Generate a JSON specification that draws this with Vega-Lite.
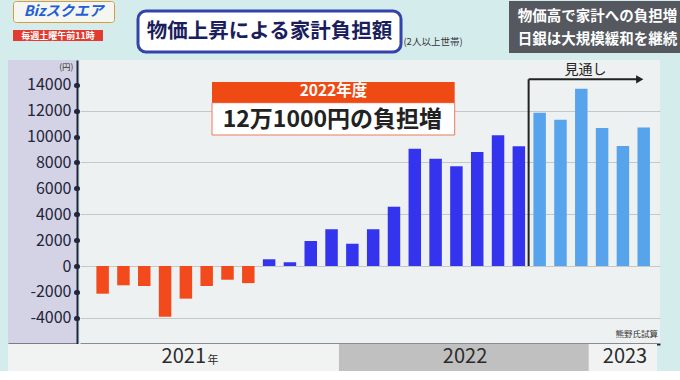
{
  "$schema": "https://vega.github.io/schema/vega-lite/v6.json",
  "background": "#d4ecec",
  "padding": {"left": 8, "top": 0, "right": 0, "bottom": 0},
  "config": {"view": {"stroke": null}, "font": "Noto Sans CJK JP", "concat": {"spacing": 0}},
  "spacing": 0,
  "vconcat": [
    {
      "spacing": 0,
      "hconcat": [
        {"width": 4, "height": 1, "view": {"fill": "transparent"}, "data": {"values": []}, "mark": "point"},
        {
          "spacing": 7,
          "vconcat": [
            {"width": 101, "height": 21, "view": {"fill": "#f6f6f0", "cornerRadius": 3, "stroke": "#d89a3a", "strokeWidth": 1},
             "data": {"values": [{}]}, "mark": {"type": "text", "fontSize": 14.5, "fontWeight": "bold", "fontStyle": "italic", "color": "#1f5fd6"},
             "encoding": {"text": {"value": "Bizスクエア"}}},
            {"width": 90, "height": 11, "view": {"fill": "#e23b31"},
             "data": {"values": [{}]}, "mark": {"type": "text", "fontSize": 9, "fontWeight": "bold", "color": "#ffffff"},
             "encoding": {"text": {"value": "毎週土曜午前11時"}}}
          ]
        },
        {"width": 21, "height": 1, "view": {"fill": "transparent"}, "data": {"values": []}, "mark": "point"},
        {
          "spacing": 0,
          "vconcat": [
            {"width": 1, "height": 8, "view": {"fill": "transparent"}, "data": {"values": []}, "mark": "point"},
            {"width": 263, "height": 41, "view": {"fill": "#ffffff", "stroke": "#3343aa", "strokeWidth": 3, "cornerRadius": 8},
             "data": {"values": [{}]}, "mark": {"type": "text", "fontSize": 20.5, "fontWeight": "bold", "color": "#1b1e5c"},
             "encoding": {"text": {"value": "物価上昇による家計負担額"}}}
          ]
        },
        {"width": 60, "height": 49, "view": {"fill": "transparent"},
         "data": {"values": [{}]}, "mark": {"type": "text", "fontSize": 9.5, "color": "#333333", "dy": 16},
         "encoding": {"text": {"value": "(2人以上世帯)"}}},
        {"width": 46, "height": 1, "view": {"fill": "transparent"}, "data": {"values": []}, "mark": "point"},
        {
          "spacing": 0,
          "vconcat": [
            {"width": 177, "height": 28, "view": {"fill": "#55595f"},
             "data": {"values": [{}]}, "mark": {"type": "text", "fontSize": 14.5, "fontWeight": "bold", "color": "#ffffff", "dy": 2},
             "encoding": {"text": {"value": "物価高で家計への負担増"}}},
            {"width": 177, "height": 24, "view": {"fill": "#55595f"},
             "data": {"values": [{}]}, "mark": {"type": "text", "fontSize": 14.5, "fontWeight": "bold", "color": "#ffffff", "dy": -1},
             "encoding": {"text": {"value": "日銀は大規模緩和を継続"}}},
            {"width": 1, "height": 7, "view": {"fill": "transparent"}, "data": {"values": []}, "mark": "point"}
          ]
        }
      ]
    },
    {
      "spacing": 0,
      "hconcat": [
        {
          "width": 69, "height": 284,
          "view": {"fill": "#d3d3e5"},
          "data": {"values": [{"v": 0}]},
          "mark": {"type": "point", "opacity": 0},
          "encoding": {
            "y": {"field": "v", "type": "quantitative",
                  "scale": {"domain": [-6025, 15914], "nice": false, "zero": false},
                  "axis": {"orient": "left", "offset": -69, "values": [-4000, -2000, 0, 2000, 4000, 6000, 8000, 10000, 12000, 14000],
                           "labelExpr": "'' + datum.value", "labelFontSize": 16, "labelColor": "#24243a", "labelPadding": 5,
                           "tickSize": 1, "tickWidth": 5, "tickCap": "round", "tickColor": "#24243a",
                           "domainColor": "#24243a", "domainWidth": 2, "grid": false,
                           "title": "(円)", "titleAngle": 0, "titleFontSize": 8.5, "titleFontWeight": "normal", "titleAlign": "right",
                           "titleBaseline": "middle", "titleX": -4, "titleY": 6, "titleColor": "#333333"}},
            "x": {"field": "v", "type": "quantitative",
                  "axis": {"domain": true, "domainColor": "#24243a", "domainWidth": 2, "labels": false, "ticks": false, "title": null, "grid": false}}
          }
        },
        {
          "width": 580, "height": 284,
          "view": {"fill": "#eef1f1"},
          "resolve": {"scale": {"x": "independent"}, "axis": {"x": "independent"}},
          "layer": [
            {
              "data": {"values": [
                {"month": "2021-01", "value": -2140, "status": "実績"},
                {"month": "2021-02", "value": -1490, "status": "実績"},
                {"month": "2021-03", "value": -1540, "status": "実績"},
                {"month": "2021-04", "value": -3920, "status": "実績"},
                {"month": "2021-05", "value": -2520, "status": "実績"},
                {"month": "2021-06", "value": -1540, "status": "実績"},
                {"month": "2021-07", "value": -1060, "status": "実績"},
                {"month": "2021-08", "value": -1320, "status": "実績"},
                {"month": "2021-09", "value": 520, "status": "実績"},
                {"month": "2021-10", "value": 290, "status": "実績"},
                {"month": "2021-11", "value": 1930, "status": "実績"},
                {"month": "2021-12", "value": 2840, "status": "実績"},
                {"month": "2022-01", "value": 1720, "status": "実績"},
                {"month": "2022-02", "value": 2840, "status": "実績"},
                {"month": "2022-03", "value": 4580, "status": "実績"},
                {"month": "2022-04", "value": 9060, "status": "実績"},
                {"month": "2022-05", "value": 8290, "status": "実績"},
                {"month": "2022-06", "value": 7700, "status": "実績"},
                {"month": "2022-07", "value": 8810, "status": "実績"},
                {"month": "2022-08", "value": 10100, "status": "実績"},
                {"month": "2022-09", "value": 9250, "status": "実績"},
                {"month": "2022-10", "value": 11840, "status": "見通し"},
                {"month": "2022-11", "value": 11300, "status": "見通し"},
                {"month": "2022-12", "value": 13700, "status": "見通し"},
                {"month": "2023-01", "value": 10660, "status": "見通し"},
                {"month": "2023-02", "value": 9270, "status": "見通し"},
                {"month": "2023-03", "value": 10690, "status": "見通し"}
              ]},
              "mark": {"type": "bar"},
              "encoding": {
                "x": {"field": "month", "type": "ordinal", "sort": null,
                      "scale": {"paddingInner": 0.4, "paddingOuter": 0.635, "align": 0.62},
                      "axis": {"labels": false, "ticks": false, "title": null, "domain": true, "domainColor": "#24243a", "domainWidth": 2, "grid": false}},
                "y": {"field": "value", "type": "quantitative",
                      "scale": {"domain": [-6025, 15914], "nice": false, "zero": false},
                      "axis": {"values": [-4000, -2000, 0, 2000, 4000, 6000, 8000, 10000, 12000, 14000], "grid": true, "gridColor": "#c3c8c8", "gridWidth": 1,
                               "labels": false, "ticks": false, "domain": false, "title": null}},
                "color": {"condition": {"test": "datum.value < 0", "value": "#f24a1c"},
                          "field": "status", "type": "nominal",
                          "scale": {"domain": ["実績", "見通し"], "range": ["#3434ef", "#58a4ec"]}, "legend": null}
              }
            },
            {
              "data": {"values": [{}]},
              "layer": [
                {"mark": {"type": "rect", "fill": "#ffffff", "stroke": "#ec7a5c", "strokeWidth": 1},
                 "encoding": {"x": {"datum": 6.255, "type": "quantitative", "scale": {"domain": [-0.0884, 27.783], "nice": false, "zero": false}, "axis": null},
                              "x2": {"datum": 17.917}, "y": {"datum": 12615, "type": "quantitative"}, "y2": {"datum": 10120}}},
                {"mark": {"type": "rect", "fill": "#f04a14"},
                 "encoding": {"x": {"datum": 6.255, "type": "quantitative"}, "x2": {"datum": 17.917},
                              "y": {"datum": 14214, "type": "quantitative"}, "y2": {"datum": 12615}}},
                {"mark": {"type": "text", "fontSize": 15.5, "fontWeight": "bold", "color": "#ffffff"},
                 "encoding": {"x": {"datum": 12.09, "type": "quantitative"}, "y": {"datum": 13500, "type": "quantitative"}, "text": {"value": "2022年度"}}},
                {"mark": {"type": "text", "fontSize": 23, "fontWeight": "bold", "color": "#222222"},
                 "encoding": {"x": {"datum": 12.04, "type": "quantitative"}, "y": {"datum": 11250, "type": "quantitative"}, "text": {"value": "12万1000円の負担増"}}},
                {"mark": {"type": "rule", "color": "#222222", "strokeWidth": 2},
                 "encoding": {"x": {"datum": 21.47, "type": "quantitative"}, "y": {"datum": 0, "type": "quantitative"}, "y2": {"datum": 14422}}},
                {"mark": {"type": "rule", "color": "#222222", "strokeWidth": 2},
                 "encoding": {"x": {"datum": 21.47, "type": "quantitative"}, "x2": {"datum": 26.75}, "y": {"datum": 14422, "type": "quantitative"}}},
                {"mark": {"type": "point", "shape": "triangle-right", "filled": true, "size": 70, "color": "#222222", "opacity": 1},
                 "encoding": {"x": {"datum": 26.81, "type": "quantitative"}, "y": {"datum": 14422, "type": "quantitative"}}},
                {"mark": {"type": "text", "fontSize": 14, "color": "#222222"},
                 "encoding": {"x": {"datum": 24.2, "type": "quantitative"}, "y": {"datum": 15118, "type": "quantitative"}, "text": {"value": "見通し"}}},
                {"mark": {"type": "text", "fontSize": 8.5, "color": "#333333", "align": "right"},
                 "encoding": {"x": {"datum": 27.69, "type": "quantitative"}, "y": {"datum": -5250, "type": "quantitative"}, "text": {"value": "熊野氏試算"}}}
              ]
            }
          ]
        }
      ]
    },
    {
      "width": 649, "height": 27,
      "view": {"fill": "#f1f2f2"},
      "data": {"values": [{}]},
      "layer": [
        {"mark": {"type": "rect", "color": "#c0c0c0"},
         "encoding": {"x": {"datum": 12.5, "type": "quantitative", "scale": {"domain": [-3.404, 27.783], "nice": false, "zero": false}, "axis": null},
                      "x2": {"datum": 24.5}}},
        {"mark": {"type": "text", "fontSize": 20, "color": "#2b2b2b", "align": "right", "dy": -1},
         "encoding": {"x": {"datum": 6.11, "type": "quantitative"}, "text": {"value": "2021"}}},
        {"mark": {"type": "text", "fontSize": 11, "color": "#2b2b2b", "align": "left", "dy": 3},
         "encoding": {"x": {"datum": 6.18, "type": "quantitative"}, "text": {"value": "年"}}},
        {"mark": {"type": "text", "fontSize": 20, "color": "#2b2b2b", "dy": -1},
         "encoding": {"x": {"datum": 18.56, "type": "quantitative"}, "text": {"value": "2022"}}},
        {"mark": {"type": "text", "fontSize": 20, "color": "#2b2b2b", "dy": -1},
         "encoding": {"x": {"datum": 26.245, "type": "quantitative"}, "text": {"value": "2023"}}}
      ]
    }
  ]
}
